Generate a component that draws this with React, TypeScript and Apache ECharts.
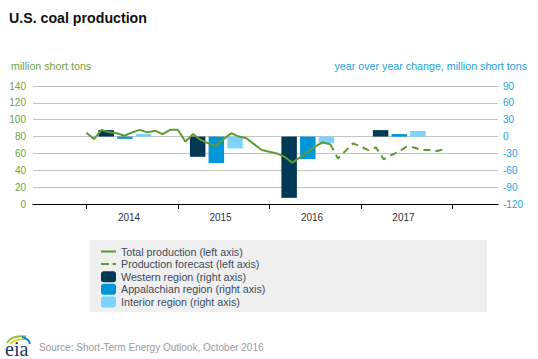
import React, { useEffect, useRef } from "react";
import * as echarts from "echarts";

const years = ["2014", "2015", "2016", "2017"];
// monthly, Jan 2014 - Sep 2016 (million short tons)
const totalProduction = [
  84.5, 77, 88, 85, 84, 81, 85, 88, 85, 87, 83, 88,
  88, 74, 83, 76, 72, 69, 77, 84, 80, 78, 71, 64,
  62, 60, 56, 49, 55, 62, 68, 73, 71,
];
// monthly, Sep 2016 - Dec 2017
const productionForecast = [71, 54, 63, 72, 68, 64, 67, 53, 58, 62, 68, 67, 64, 64, 63, 65];
// annual year-over-year change, million short tons
const westernChange = [11.5, -36, -109, 11.5];
const appalachianChange = [-4, -47, -40, 4.5];
const interiorChange = [5, -21, -12, 10];

const FONT = '"Liberation Sans", Arial, sans-serif';
const GREEN = "#5f9a35";
const C_WEST = "#003953";
const C_APP = "#0096d7";
const C_INT = "#7dd3fb";

const SOLID_ICON = "path://M0,0 L0.01,0 L0,0.01 Z M0,9 L15,9 L15,13 L0,13 Z M15,22 L15.01,22 L15,22.01 Z";
const DASH_ICON =
  "path://M0,0 L0.01,0 L0,0.01 Z M0,9 L8,9 L8,13 L0,13 Z M11.5,9 L15,9 L15,13 L11.5,13 Z M15,22 L15.01,22 L15,22.01 Z";

export default function App() {
  const ref = useRef<HTMLDivElement>(null);
  useEffect(() => {
    if (!ref.current) return;
    const chart = echarts.init(ref.current, null, { renderer: "svg" });
    const forecastStart = totalProduction.length - 1;
    const barData = (vals: number[], off: number) => vals.map((v, i) => [i * 12 + off, v]);
    const option: any = {
      animation: false,
      textStyle: { fontFamily: FONT },
      grid: { left: 33, right: 40, top: 86, bottom: 155, containLabel: false },
      xAxis: {
        type: "value",
        min: -7,
        max: 54,
        splitLine: { show: false },
        axisLine: { show: true, onZero: false, lineStyle: { color: "#000", width: 1.2 } },
        axisTick: { show: true, customValues: [0, 12, 24, 36, 48], length: 5, lineStyle: { color: "#000" } },
        axisLabel: {
          customValues: years.map((_, i) => i * 12 + 5.6),
          formatter: (v: number) => years[Math.round((v - 5.6) / 12)] ?? "",
          color: "#333",
          fontSize: 10,
          margin: 8,
          fontFamily: FONT,
        },
      },
      yAxis: [
        {
          type: "value",
          min: 0,
          max: 140,
          interval: 20,
          position: "left",
          axisLine: { show: false },
          axisTick: { show: false },
          splitLine: { show: true, lineStyle: { color: "#c4c4c4", width: 1 } },
          axisLabel: { color: "#6fa343", fontSize: 10, margin: 7, fontFamily: FONT },
        },
        {
          type: "value",
          min: -120,
          max: 90,
          interval: 30,
          position: "right",
          axisLine: { show: false },
          axisTick: { show: false },
          splitLine: { show: false },
          axisLabel: { color: "#1ea1dc", fontSize: 10, margin: 5, fontFamily: FONT },
        },
      ],
      legend: {
        orient: "vertical",
        left: 96,
        top: 241,
        itemWidth: 15,
        itemHeight: 11,
        itemGap: 1.6,
        symbolKeepAspect: false,
        textStyle: { fontSize: 10.7, color: "#3c4b5c", fontFamily: FONT },
        data: [
          { name: "Total production (left axis)", icon: SOLID_ICON, itemStyle: { color: GREEN, borderWidth: 0 } },
          { name: "Production forecast (left axis)", icon: DASH_ICON, itemStyle: { color: GREEN, borderWidth: 0 } },
          { name: "Western region (right axis)", icon: "roundRect" },
          { name: "Appalachian region (right axis)", icon: "roundRect" },
          { name: "Interior region (right axis)", icon: "roundRect" },
        ],
      },
      series: [
        {
          name: "Western region (right axis)",
          type: "bar",
          yAxisIndex: 1,
          barWidth: 15.5,
          barGap: "-100%",
          itemStyle: { color: C_WEST },
          data: barData(westernChange, 2.6),
          z: 2,
        },
        {
          name: "Appalachian region (right axis)",
          type: "bar",
          yAxisIndex: 1,
          barWidth: 15.5,
          barGap: "-100%",
          itemStyle: { color: C_APP },
          data: barData(appalachianChange, 5.05),
          z: 2,
        },
        {
          name: "Interior region (right axis)",
          type: "bar",
          yAxisIndex: 1,
          barWidth: 15.5,
          barGap: "-100%",
          itemStyle: { color: C_INT },
          data: barData(interiorChange, 7.5),
          z: 2,
        },
        {
          name: "Total production (left axis)",
          type: "line",
          yAxisIndex: 0,
          symbol: "none",
          lineStyle: { color: GREEN, width: 2 },
          itemStyle: { color: GREEN },
          data: totalProduction.map((v, i) => [i, v]),
          z: 5,
        },
        {
          name: "Production forecast (left axis)",
          type: "line",
          yAxisIndex: 0,
          symbol: "none",
          lineStyle: { color: GREEN, width: 2, type: [7, 5] },
          itemStyle: { color: GREEN },
          data: productionForecast.map((v, i) => [forecastStart + i, v]),
          z: 5,
        },
      ],
      graphic: [
        {
          type: "rect",
          shape: { x: 90, y: 240, width: 397, height: 72 },
          style: { fill: "#efefef" },
          z: -10,
          silent: true,
        },
        {
          type: "text",
          x: 9,
          y: 17.5,
          style: { text: "U.S. coal production", font: `bold 14.2px ${FONT}`, fill: "#111", verticalAlign: "middle" },
        },
        {
          type: "text",
          x: 11,
          y: 66,
          style: { text: "million short tons", font: `10.7px ${FONT}`, fill: "#6fa343", verticalAlign: "middle" },
        },
        {
          type: "text",
          x: 527,
          y: 66,
          style: {
            text: "year over year change, million short tons",
            font: `10.7px ${FONT}`,
            fill: "#1ea1dc",
            align: "right",
            verticalAlign: "middle",
          },
        },
        {
          type: "text",
          x: 39,
          y: 347,
          style: {
            text: "Source: Short-Term Energy Outlook, October 2016",
            font: `10px ${FONT}`,
            fill: "#9a9a9a",
            verticalAlign: "middle",
          },
        },
        {
          type: "text",
          x: 5,
          y: 349,
          style: { text: "eia", font: `20px "Liberation Serif", serif`, fill: "#1b3564", verticalAlign: "middle" },
        },
        {
          type: "bezierCurve",
          shape: { x1: 7, y1: 343, cpx1: 11, cpy1: 335, x2: 26, y2: 336.5 },
          style: { stroke: "#8cc63f", lineWidth: 2, fill: null },
        },
        {
          type: "bezierCurve",
          shape: { x1: 10, y1: 344, cpx1: 15, cpy1: 338, x2: 27, y2: 339.5 },
          style: { stroke: "#f2c200", lineWidth: 1.6, fill: null },
        },
        {
          type: "bezierCurve",
          shape: { x1: 22, y1: 337, cpx1: 29, cpy1: 338.5, x2: 30, y2: 344 },
          style: { stroke: "#0096d7", lineWidth: 2, fill: null },
        },
      ],
    };
    chart.setOption(option);
    return () => chart.dispose();
  }, []);
  return <div ref={ref} style={{ position: "absolute", left: 0, top: 0, width: 538, height: 359 }} />;
}
